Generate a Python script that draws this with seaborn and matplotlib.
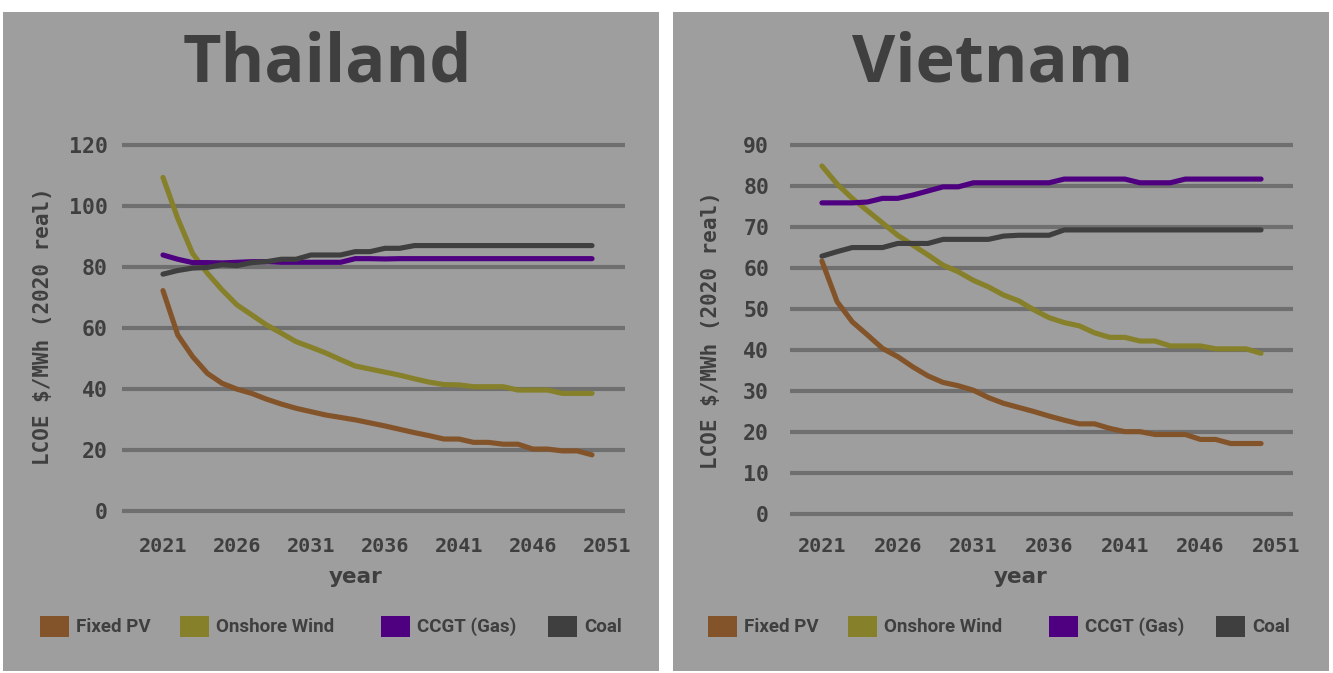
import numpy as np
import pandas as pd
import matplotlib
matplotlib.use("Agg")
import matplotlib.pyplot as plt
from matplotlib.patches import Rectangle
import seaborn as sns

# ---- data -------------------------------------------------------------
years = list(range(2021, 2051))
technologies = ["Fixed PV", "Onshore Wind", "CCGT (Gas)", "Coal"]

th_fixed_pv = [72.3, 57.7, 50.6, 45.1, 41.8, 39.9, 38.5, 36.6, 35.0, 33.6,
               32.5, 31.4, 30.6, 29.8, 28.8, 27.8, 26.7, 25.6, 24.6, 23.5,
               23.5, 22.4, 22.4, 21.8, 21.8, 20.2, 20.2, 19.6, 19.6, 18.3]
th_onshore_wind = [109.5, 96.0, 84.5, 78.0, 72.5, 67.6, 64.3, 61.0, 58.3, 55.5,
                   53.7, 51.8, 49.6, 47.5, 46.5, 45.5, 44.5, 43.3, 42.2, 41.4,
                   41.3, 40.7, 40.7, 40.7, 39.6, 39.6, 39.6, 38.5, 38.5, 38.5]
th_ccgt = [84.0, 82.6, 81.5, 81.5, 81.4, 81.6, 81.8, 81.8, 81.6, 81.6,
           81.6, 81.6, 81.6, 82.8, 82.8, 82.7, 82.8, 82.8, 82.8, 82.8,
           82.8, 82.8, 82.8, 82.8, 82.8, 82.8, 82.8, 82.8, 82.8, 82.8]
th_coal = [77.7, 78.9, 79.7, 79.9, 80.8, 80.5, 81.5, 81.8, 82.6, 82.6,
           84.0, 84.0, 84.0, 85.1, 85.1, 86.2, 86.2, 87.1, 87.1, 87.1,
           87.1, 87.1, 87.1, 87.1, 87.1, 87.1, 87.1, 87.1, 87.1, 87.1]

vn_fixed_pv = [61.7, 51.8, 46.9, 43.7, 40.4, 38.4, 35.9, 33.7, 32.1, 31.3,
               30.2, 28.4, 27.0, 26.0, 25.0, 23.9, 22.9, 22.0, 22.0, 20.9,
               20.1, 20.1, 19.4, 19.4, 19.4, 18.2, 18.2, 17.2, 17.2, 17.2]
vn_onshore_wind = [84.9, 80.5, 77.0, 74.0, 71.0, 68.0, 65.6, 63.2, 60.7, 59.1,
                   57.0, 55.4, 53.4, 52.0, 49.8, 47.9, 46.7, 45.9, 44.2, 43.1,
                   43.1, 42.2, 42.2, 41.0, 41.0, 41.0, 40.3, 40.3, 40.3, 39.2]
vn_ccgt = [75.9, 75.9, 75.9, 76.1, 77.0, 77.0, 77.8, 78.8, 79.8, 79.8,
           80.8, 80.8, 80.8, 80.8, 80.8, 80.8, 81.7, 81.7, 81.7, 81.7,
           81.7, 80.8, 80.8, 80.8, 81.7, 81.7, 81.7, 81.7, 81.7, 81.7]
vn_coal = [62.9, 64.0, 65.0, 65.0, 65.0, 66.0, 66.0, 66.0, 67.0, 67.0,
           67.0, 67.0, 67.8, 68.0, 68.0, 68.0, 69.3, 69.3, 69.3, 69.3,
           69.3, 69.3, 69.3, 69.3, 69.3, 69.3, 69.3, 69.3, 69.3, 69.3]

x_ticks = [2021, 2026, 2031, 2036, 2041, 2046, 2051]
th_y_ticks = [0, 20, 40, 60, 80, 100, 120]
vn_y_ticks = [0, 10, 20, 30, 40, 50, 60, 70, 80, 90]

colors = {"Fixed PV": "#83542a", "Onshore Wind": "#858029",
          "CCGT (Gas)": "#4f0080", "Coal": "#3f3f3f"}


def long_form(series):
    frames = [pd.DataFrame({"year": years, "lcoe": vals, "tech": name})
              for name, vals in zip(technologies, series)]
    return pd.concat(frames, ignore_index=True)


th_df = long_form([th_fixed_pv, th_onshore_wind, th_ccgt, th_coal])
vn_df = long_form([vn_fixed_pv, vn_onshore_wind, vn_ccgt, vn_coal])

# ---- figure ------------------------------------------------------------
sns.set_theme(style="white")
W, H = 1333, 673
fig = plt.figure(figsize=(W / 100, H / 100), dpi=100, facecolor="white")

TEXT = "#3f3f3f"
PANEL = "#9e9e9e"
GRID = "#6f6f6f"
MONO = "DejaVu Sans Mono"


def fx(px):
    return px / W


def fy(py):
    return 1 - py / H


def panel(x0, x1, y0, y1):
    fig.add_artist(Rectangle((fx(x0), fy(y1)), fx(x1 - x0), (y1 - y0) / H,
                             transform=fig.transFigure, facecolor=PANEL,
                             edgecolor="none", zorder=0))


def chart(df, box, xlim, ylim, yticks, xpad, ypad):
    left, top, right, bottom = box
    ax = fig.add_axes([fx(left), fy(bottom), fx(right - left), (bottom - top) / H])
    ax.set_facecolor("none")
    sns.lineplot(data=df, x="year", y="lcoe", hue="tech", palette=colors,
                 hue_order=technologies, linewidth=3.7, legend=False, ax=ax,
                 zorder=3)
    ax.set_xlim(*xlim)
    ax.set_ylim(*ylim)
    ax.set_xticks(x_ticks)
    ax.set_yticks(yticks)
    ax.grid(False)
    for v in yticks:
        ax.axhline(v, color=GRID, linewidth=3.0, zorder=1)
    for s in ax.spines.values():
        s.set_visible(False)
    ax.tick_params(axis="both", length=0, colors=TEXT)
    ax.tick_params(axis="x", pad=xpad)
    ax.tick_params(axis="y", pad=ypad)
    for lab in ax.get_xticklabels():
        lab.set_fontfamily(MONO)
        lab.set_fontweight("bold")
        lab.set_fontsize(14.5)
        lab.set_color(TEXT)
    for lab in ax.get_yticklabels():
        lab.set_fontfamily(MONO)
        lab.set_fontweight("bold")
        lab.set_fontsize(15.5)
        lab.set_color(TEXT)
    ax.set_xlabel("")
    ax.set_ylabel("")
    return ax


def decorations(title, title_x, ylabel_x, ylabel_y, year_x, legend_x0):
    fig.text(fx(title_x), fy(82), title, ha="center", va="baseline",
             fontfamily="Open Sans", fontweight="bold", fontsize=48,
             color=TEXT)
    fig.text(fx(ylabel_x), fy(ylabel_y), "LCOE $/MWh (2020 real)", rotation=90,
             ha="center", va="center", fontfamily=MONO, fontweight="bold",
             fontsize=15, color=TEXT)
    fig.text(fx(year_x), fy(577), "year", ha="center", va="center",
             fontfamily="DejaVu Sans", fontweight="bold", fontsize=15.5,
             color=TEXT)
    offsets = [0, 140, 341, 508]
    for name, off in zip(technologies, offsets):
        px = legend_x0 + off
        fig.add_artist(Rectangle((fx(px), fy(637)), fx(29), 21 / H,
                                 transform=fig.transFigure,
                                 facecolor=colors[name], edgecolor="none"))
        fig.text(fx(px + 36), fy(627), name, ha="left", va="center",
                 fontfamily="Roboto", fontweight="bold", fontsize=13.5,
                 color=TEXT)


# Thailand
panel(3, 659, 12, 671)
chart(th_df, (122, 139.4, 625, 516.6), (2018.23, 2052.23), (-2, 122),
      th_y_ticks, xpad=15, ypad=10)
decorations("Thailand", 327, 43, 326, 356, 40)

# Vietnam
panel(673, 1329, 12, 671)
chart(vn_df, (790, 138.9, 1293, 520.2), (2018.89, 2052.11), (-1.5, 91.5),
      vn_y_ticks, xpad=12, ypad=15)
decorations("Vietnam", 993, 711, 330, 1021, 708)

fig.savefig("out.png", dpi=100, facecolor="white")
